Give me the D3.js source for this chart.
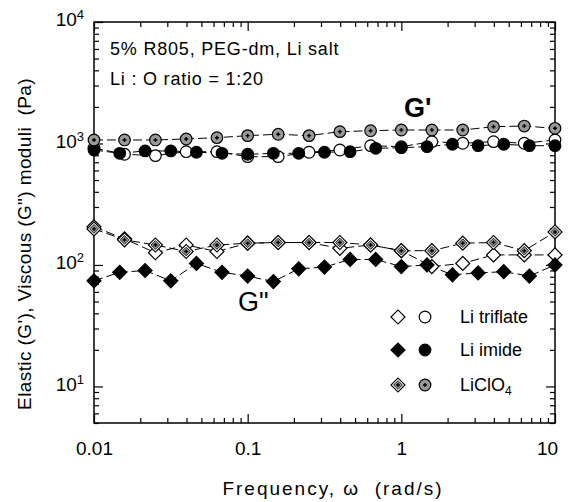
<!DOCTYPE html>
<html>
<head>
<meta charset="utf-8">
<script src="https://cdn.jsdelivr.net/npm/d3@7"></script>
<style>
  body { margin: 0; background: #fff; }
  text { font-family: "Liberation Sans", Arial, sans-serif; fill: #000; }
</style>
</head>
<body>
<div id="chart"></div>
<script>
// frequencies (rad/s): 5 points per decade for triflate / LiClO4, 6 per decade for imide
const freq5 = [0.01, 0.0158, 0.0251, 0.0398, 0.0631, 0.1, 0.158, 0.251, 0.398, 0.631, 1, 1.58, 2.51, 3.98, 6.31, 10];
const freq6 = [0.01, 0.0147, 0.0215, 0.0316, 0.0464, 0.0681, 0.1, 0.147, 0.215, 0.316, 0.464, 0.681, 1, 1.47, 2.15, 3.16, 4.64, 6.81, 10];

// moduli (Pa)
const triflateG1 = [918, 815, 794, 856, 856, 779, 779, 847, 884, 959, 941, 1035, 1004, 1035, 1004, 1069];
const triflateG2 = [206, 164, 126, 146, 129, 151, 153, 153, 137, 146, 131, 97, 103, 121, 121, 121];
const imideG1 = [884, 830, 868, 868, 847, 830, 815, 830, 830, 847, 856, 913, 923, 941, 985, 959, 985, 959, 959];
const imideG2 = [74, 87, 90, 74, 103, 87, 81, 73, 93, 96, 111, 111, 97, 100, 83, 86, 88, 81, 100];
const perchlorateG1 = [1069, 1069, 1069, 1089, 1116, 1160, 1191, 1160, 1251, 1274, 1291, 1291, 1291, 1374, 1392, 1333];
const perchlorateG2 = [198, 161, 146, 129, 146, 151, 153, 153, 153, 146, 131, 131, 151, 153, 131, 187];

const xMajor = [0.01, 0.1, 1, 10];
const xLabels = ["0.01", "0.1", "1", "10"];
const yMajor = [10, 100, 1000, 10000];
const yExponents = ["1", "2", "3", "4"];
const legendNames = ["Li triflate", "Li imide", "LiClO"];

const svgWidth = 569;
const svgHeight = 502;
const margin = { left: 94, right: 14, top: 22, bottom: 79 };
const gray = "#999";

const svg = d3
  .select("#chart")
  .append("svg")
  .attr("width", svgWidth)
  .attr("height", svgHeight);

// scales
const x = d3
  .scaleLog()
  .domain([0.01, 10])
  .range([margin.left, svgWidth - margin.right]);

const y = d3
  .scaleLog()
  .domain([5, 10000])
  .range([svgHeight - margin.bottom, margin.top]);

const xMinor = x.ticks().filter(t => !xMajor.some(m => Math.abs(m - t) < 1e-9));
const yMinor = y.ticks().filter(t => !yMajor.some(m => Math.abs(m - t) < 1e-9));

const bottomY = svgHeight - margin.bottom;
const rightX = svgWidth - margin.right;

// axes, ticks pointing inwards on all four sides
function addAxis(makeAxis, pos, major, minor) {
  [[minor, -5], [major, -9]].forEach(([vals, size]) => {
    const g = svg
      .append("g")
      .attr("transform", pos)
      .call(makeAxis().tickValues(vals).tickSize(size).tickFormat(""));
    g.select(".domain").remove();
    g.selectAll(".tick line").attr("stroke-width", 1.2);
  });
}

addAxis(() => d3.axisBottom(x), "translate(0," + bottomY + ")", xMajor, xMinor);
addAxis(() => d3.axisTop(x), "translate(0," + margin.top + ")", xMajor, xMinor);
addAxis(() => d3.axisLeft(y), "translate(" + margin.left + ",0)", yMajor, yMinor);
addAxis(() => d3.axisRight(y), "translate(" + rightX + ",0)", yMajor, yMinor);

// tick labels
const xLab = svg
  .append("g")
  .attr("transform", "translate(0," + bottomY + ")")
  .call(d3.axisBottom(x).tickValues(xMajor).tickSize(0).tickPadding(19)
    .tickFormat((d, i) => xLabels[i]));
xLab.select(".domain").remove();
xLab.selectAll("text").attr("font-size", 19).attr("font-family", null)
  .attr("dx", (d, i) => (i === 3 ? -8 : 0));

const yLab = svg
  .append("g")
  .attr("transform", "translate(" + margin.left + ",0)")
  .call(d3.axisLeft(y).tickValues(yMajor).tickSize(0).tickPadding(10).tickFormat(""));
yLab.select(".domain").remove();
yLab.selectAll("text")
  .attr("font-size", 19)
  .attr("dy", "0.2em")
  .attr("font-family", null)
  .each(function (d, i) {
    const t = d3.select(this);
    t.append("tspan").text("10");
    t.append("tspan").attr("font-size", 13).attr("dy", "-0.55em").text(yExponents[i]);
  });

// frame
svg
  .append("rect")
  .attr("x", margin.left)
  .attr("y", margin.top)
  .attr("width", rightX - margin.left)
  .attr("height", bottomY - margin.top)
  .attr("fill", "none")
  .attr("stroke", "#000")
  .attr("stroke-width", 1.5);

// markers
const diamondPath = d3.symbol(d3.symbolSquare, 98)();
const innerDiamond = d3.symbol(d3.symbolSquare, 38)();

function drawMarker(g, kind, cx, cy) {
  const m = g.append("g").attr("transform", "translate(" + cx + "," + cy + ")");
  if (kind === "openCircle" || kind === "fillCircle" || kind === "grayCircle") {
    m.append("circle")
      .attr("r", 5.8)
      .attr("fill", kind === "openCircle" ? "#fff" : kind === "fillCircle" ? "#000" : gray)
      .attr("stroke", "#000")
      .attr("stroke-width", 1.2);
  } else {
    m.append("path")
      .attr("d", diamondPath)
      .attr("transform", "rotate(45)")
      .attr("fill", kind === "fillDiamond" ? "#000" : "#fff")
      .attr("stroke", "#000")
      .attr("stroke-width", 1.2);
    if (kind === "grayDiamond") {
      m.append("path")
        .attr("d", innerDiamond)
        .attr("transform", "rotate(45)")
        .attr("fill", gray)
        .attr("stroke", "#000")
        .attr("stroke-width", 0.8);
    }
  }
  if (kind === "grayCircle" || kind === "grayDiamond") {
    m.append("path")
      .attr("d", "M-2,0H2M0,-2V2")
      .attr("stroke", "#000")
      .attr("stroke-width", 1.4);
  }
}

const series = [
  { f: freq5, v: triflateG1, kind: "openCircle" },
  { f: freq5, v: triflateG2, kind: "openDiamond" },
  { f: freq6, v: imideG1, kind: "fillCircle" },
  { f: freq6, v: imideG2, kind: "fillDiamond" },
  { f: freq5, v: perchlorateG1, kind: "grayCircle" },
  { f: freq5, v: perchlorateG2, kind: "grayDiamond" }
];

const line = d3
  .line()
  .x(d => x(d[0]))
  .y(d => y(d[1]));

series.forEach(s => {
  svg
    .append("path")
    .datum(d3.zip(s.f, s.v))
    .attr("d", line)
    .attr("fill", "none")
    .attr("stroke", "#000")
    .attr("stroke-width", 1)
    .attr("stroke-dasharray", "9,4");
});

series.forEach(s => {
  const g = svg.append("g");
  d3.zip(s.f, s.v).forEach(d => drawMarker(g, s.kind, x(d[0]), y(d[1])));
});

// annotations
svg.append("text").attr("x", 110).attr("y", 55).attr("font-size", 18)
  .attr("letter-spacing", 0.8).text("5% R805, PEG-dm, Li salt");
svg.append("text").attr("x", 110).attr("y", 85).attr("font-size", 18)
  .attr("letter-spacing", 0.8).text("Li : O ratio = 1:20");
svg.append("text").attr("x", 404).attr("y", 117).attr("font-size", 27)
  .attr("font-weight", "bold").text("G'");
svg.append("text").attr("x", 238).attr("y", 311).attr("font-size", 27)
  .text("G\"");

// legend
const legendKinds = [["openDiamond", "openCircle"], ["fillDiamond", "fillCircle"], ["grayDiamond", "grayCircle"]];
const legendY = [317, 350, 385];
legendKinds.forEach((k, i) => {
  const g = svg.append("g");
  drawMarker(g, k[0], 398, legendY[i]);
  drawMarker(g, k[1], 425, legendY[i]);
  const t = svg.append("text").attr("x", 460).attr("y", legendY[i] + 6).attr("font-size", 18)
    .text(legendNames[i]);
  if (i === 2) t.append("tspan").attr("font-size", 12).attr("dy", "0.35em").text("4");
});

// axis titles
svg.append("text")
  .attr("x", 333)
  .attr("y", 495)
  .attr("text-anchor", "middle")
  .attr("font-size", 19)
  .attr("letter-spacing", 2)
  .style("white-space", "pre")
  .text("Frequency, \u03c9  (rad/s)");

svg.append("text")
  .attr("transform", "translate(31,244) rotate(-90)")
  .attr("text-anchor", "middle")
  .attr("font-size", 19)
  .attr("letter-spacing", 0.4)
  .style("white-space", "pre")
  .text("Elastic (G'), Viscous (G\") moduli  (Pa)");
</script>
</body>
</html>
